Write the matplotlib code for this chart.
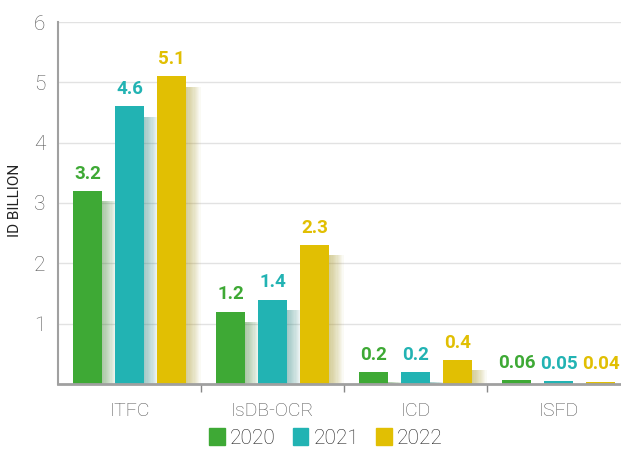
import matplotlib
matplotlib.use("Agg")
import matplotlib.pyplot as plt
import matplotlib.colors as mcolors
import numpy as np

categories = ["ITFC", "IsDB-OCR", "ICD", "ISFD"]
years = ["2020", "2021", "2022"]
values_2020 = [3.2, 1.2, 0.2, 0.06]
values_2021 = [4.6, 1.4, 0.2, 0.05]
values_2022 = [5.1, 2.3, 0.4, 0.04]
labels_2020 = ["3.2", "1.2", "0.2", "0.06"]
labels_2021 = ["4.6", "1.4", "0.2", "0.05"]
labels_2022 = ["5.1", "2.3", "0.4", "0.04"]
colors = ["#3ea935", "#22b3b3", "#e1bf03"]
yticks = [1, 2, 3, 4, 5, 6]

plt.rcParams['font.family'] = ["Roboto", "DejaVu Sans"]

fig = plt.figure(figsize=(6.21, 4.53), dpi=100)
ax = fig.add_axes([58/621, 1-384/453, 1-58/621, 362/453])

series = [values_2020, values_2021, values_2022]
lbls = [labels_2020, labels_2021, labels_2022]
x = np.arange(len(categories))
offs = [-0.294, 0.0, 0.294]
w = 0.203

# soft blurred shadows
for s, vals in enumerate(series):
    base = np.array(mcolors.to_rgb(colors[s])) * 0.55 + 0.45 * np.array([0.45, 0.45, 0.4])
    n = 12
    for k in range(n):
        dx = 0.0085 * (k + 1)
        ax.bar(x + offs[s] + dx, [max(v - 0.17, 0) for v in vals], width=w,
               color=base, alpha=0.05, zorder=1.5, linewidth=0)

for s, vals in enumerate(series):
    ax.bar(x + offs[s], vals, width=w, color=colors[s], zorder=2, linewidth=0,
           label=years[s])
    for xi, v, t in zip(x + offs[s], vals, lbls[s]):
        ax.annotate(t, (xi, v), xytext=(0, 6), textcoords="offset points",
                    ha="center", va="bottom", color=colors[s],
                    fontsize=13.5, fontweight="bold", zorder=3)

ax.set_xlim(-0.5, -0.5 + (621 - 58) / 143)
ax.set_ylim(0, 6)
ax.set_yticks(yticks)
ax.set_yticklabels([str(t) for t in yticks])
ax.set_xticks(x)
ax.set_xticklabels(categories, fontweight="light")
ax.set_xticks([0.5, 1.5, 2.5], minor=True)
ax.tick_params(axis="x", which="major", length=0, pad=13, labelsize=14, labelcolor="#555555")
ax.tick_params(axis="x", which="minor", length=6, width=1, color="#888888", direction="out")
ax.tick_params(axis="y", length=0, pad=9, labelsize=15, labelcolor="#555555")
for lab in ax.get_yticklabels():
    lab.set_fontweight("light")
ax.yaxis.grid(True, color="#e2e2e2", linewidth=1, zorder=0)
ax.set_axisbelow(True)
for sp in ["top", "right"]:
    ax.spines[sp].set_visible(False)
ax.spines["left"].set_color("#a0a0a0")
ax.spines["left"].set_linewidth(1.5)
ax.spines["bottom"].set_color("#a0a0a0")
ax.spines["bottom"].set_linewidth(2)

fig.text(15/621, 1-200/453, "ID BILLION", rotation=90, ha="center", va="center",
         fontsize=11, color="#222222")

handles = [plt.Rectangle((0, 0), 1, 1, color=c) for c in colors]
fig.legend(handles, years, loc="center", bbox_to_anchor=(326/621, 1-438/453),
           ncol=3, frameon=False, handlelength=0.75, handleheight=0.9,
           handletextpad=0.25, columnspacing=0.8, labelcolor="#222222",
           prop={"weight": "light", "size": 15})

fig.savefig("out.png", dpi=100)
